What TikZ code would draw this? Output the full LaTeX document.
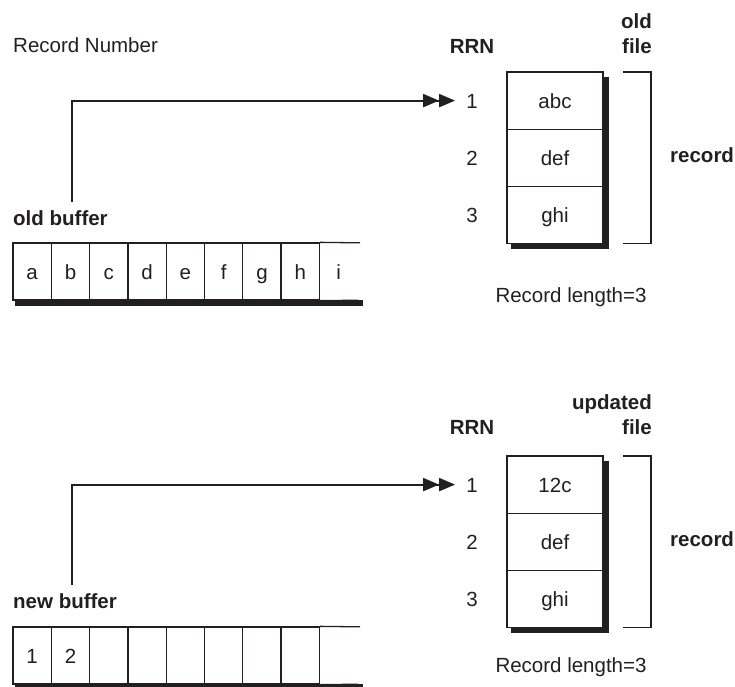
\documentclass[tikz,border=0pt]{standalone}
\usepackage{fontspec}
\setmainfont{Liberation Sans}
\usetikzlibrary{arrows.meta}
\definecolor{ink}{RGB}{35,31,32}
\begin{document}
\begin{tikzpicture}[x=1pt,y=-1pt,
  every node/.style={text=ink},
  txt/.style={inner sep=0pt, font=\fontsize{20.5}{25}\selectfont},
  btxt/.style={inner sep=0pt, font=\fontsize{20.5}{25}\selectfont\bfseries},
  ln/.style={line width=1.3pt, draw=ink},
  reccell/.style={txt, ln, draw, minimum width=96pt, minimum height=57.2pt, text height=15pt, text depth=0pt},
  bufcell/.style={txt, ln, draw, minimum width=38.3pt, minimum height=57pt, text height=15pt, text depth=0pt},
  opencell/.style={txt, minimum width=38.3pt, minimum height=57pt, text height=15pt, text depth=0pt},
  num/.style={txt, text height=15pt, text depth=0pt},
  conn/.style={line width=2pt, draw=ink, -{Triangle[length=16pt,width=13pt]Triangle[length=16pt,width=13pt]}},
  shade/.style={fill=ink, draw=none},
]
\useasboundingbox (0,0) rectangle (735,686);

% ---------- labels, top part ----------
\node[txt, anchor=base west] (recnum) at (13,52) {Record Number};
\node[btxt, anchor=base] (rrnA) at (472,53) {RRN};
\node[btxt, anchor=base east] (oldA) at (652,28) {old};
\node[btxt, anchor=base east] (fileA) at (652,53) {file};
\node[btxt, anchor=base west] (recordA) at (670,162) {record};
\node[txt, anchor=base] (lenA) at (571,302) {Record length=3};
\node[btxt, anchor=base west] (bufA) at (13,225) {old buffer};

% ---------- labels, bottom part ----------
\node[btxt, anchor=base] (rrnB) at (472,434) {RRN};
\node[btxt, anchor=base east] (updB) at (652,409) {updated};
\node[btxt, anchor=base east] (fileB) at (652,434) {file};
\node[btxt, anchor=base west] (recordB) at (670,546) {record};
\node[txt, anchor=base] (lenB) at (571,672) {Record length=3};
\node[btxt, anchor=base west] (bufB) at (13,608) {new buffer};

% ---------- top structure ----------
\fill[shade] (603,77) rectangle (608.5,248.5);
\fill[shade] (511,243) rectangle (608.5,248.5);
\node[reccell] (a1) at (555,100.6) {abc};
\node[reccell] (a2) at (555,157.8) {def};
\node[reccell] (a3) at (555,215) {ghi};
\node[num] (n1A) at (472,100.6) {1};
\node[num] (n2A) at (472,157.8) {2};
\node[num] (n3A) at (472,215) {3};
\draw[ln] (623,72) -- (651,72) -- (651,243.4) -- (623,243.4);

\fill[shade] (15,299.5) rectangle (363,306);
\foreach \i/\t in {1/a,2/b,3/c,4/d,5/e,6/f,7/g,8/h}
  \node[bufcell] (ba\i) at ({13+38.3*(\i-0.5)},271.5) {\t};
\node[opencell] (ba9) at ({13+38.3*8.5},271.5) {i};
\draw[ln] (ba8.north east) -- (ba9.north east) -- ++(2.2,0);
\draw[ln] (ba8.south east) -- (ba9.south east);

\coordinate (srcA) at (72,202);
\draw[conn] (srcA) |- ([xshift=-11pt]n1A.west);

% ---------- bottom structure ----------
\begin{scope}[yshift=-384pt]
\fill[shade] (603,77) rectangle (608.5,248.5);
\fill[shade] (511,243) rectangle (608.5,248.5);
\node[reccell] (c1) at (555,100.6) {12c};
\node[reccell] (c2) at (555,157.8) {def};
\node[reccell] (c3) at (555,215) {ghi};
\node[num] (n1B) at (472,100.6) {1};
\node[num] (n2B) at (472,157.8) {2};
\node[num] (n3B) at (472,215) {3};
\draw[ln] (623,72) -- (651,72) -- (651,243.4) -- (623,243.4);

\fill[shade] (15,299.5) rectangle (363,306);
\foreach \i/\t in {1/1,2/2,3/,4/,5/,6/,7/,8/}
  \node[bufcell] (bb\i) at ({13+38.3*(\i-0.5)},271.5) {\t};
\node[opencell] (bb9) at ({13+38.3*8.5},271.5) {};
\draw[ln] (bb8.north east) -- (bb9.north east) -- ++(2.2,0);
\draw[ln] (bb8.south east) -- (bb9.south east);

\coordinate (srcB) at (72,201);
\draw[conn] (srcB) |- ([xshift=-11pt]n1B.west);
\end{scope}
\end{tikzpicture}
\end{document}
